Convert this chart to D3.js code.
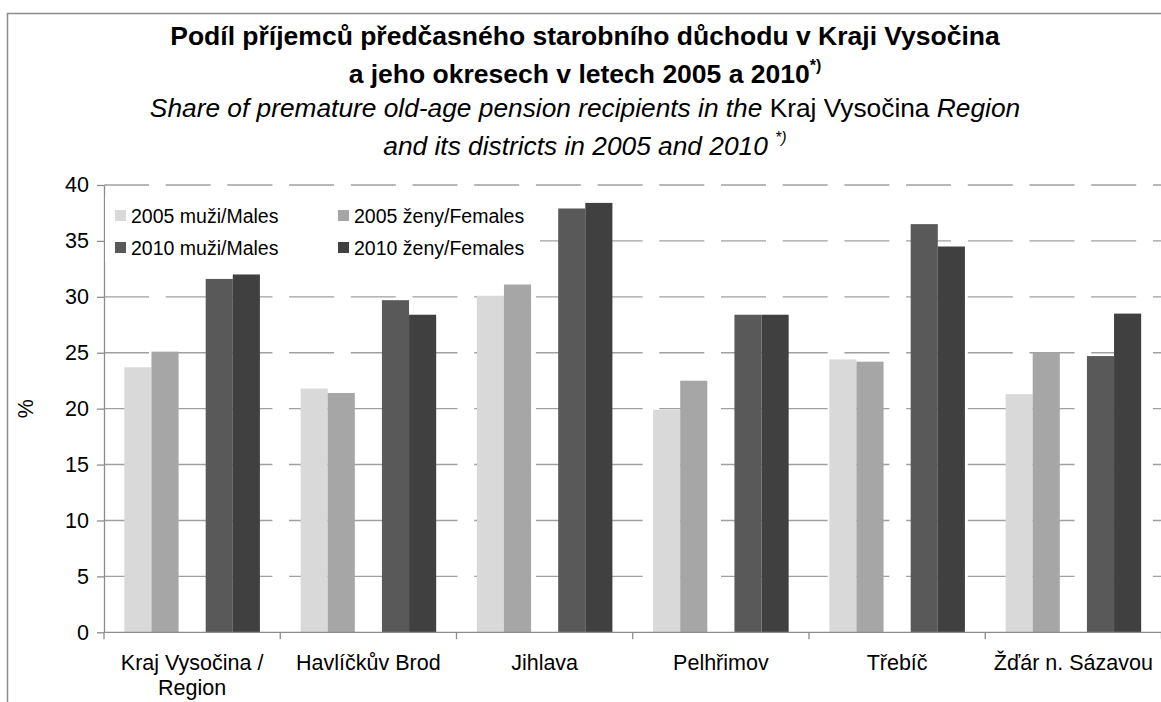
<!DOCTYPE html>
<html><head><meta charset="utf-8">
<script src="https://cdn.jsdelivr.net/npm/d3@7"></script>
<style>
html,body{margin:0;padding:0;background:#fff;}
svg{display:block;font-family:"Liberation Sans",Arial,sans-serif;}
</style></head>
<body>
<svg id="c" width="1161" height="702"></svg>
<script>
const categories = ["Kraj Vysočina /\nRegion","Havlíčkův Brod","Jihlava","Pelhřimov","Třebíč","Žďár n. Sázavou"];
const males2005   = [23.7, 21.8, 30.1, 19.9, 24.4, 21.3];
const females2005 = [25.1, 21.4, 31.1, 22.5, 24.2, 25.0];
const males2010   = [31.6, 29.7, 37.9, 28.4, 36.5, 24.7];
const females2010 = [32.0, 28.4, 38.4, 28.4, 34.5, 28.5];
const seriesKeys   = ["m05","f05","m10","f10"];
const seriesLabels = ["2005 muži/Males","2005 ženy/Females","2010 muži/Males","2010 ženy/Females"];
const seriesColors = ["#d9d9d9","#a6a6a6","#595959","#404040"];
const yTicks = [0,5,10,15,20,25,30,35,40];

(function(){
const seriesValues = [males2005, females2005, males2010, females2010];
const svg = d3.select("#c");

// outer chart border
svg.append("rect").attr("x",7.5).attr("y",13.5).attr("width",1180).attr("height",720)
  .attr("fill","none").attr("stroke","#8c8c8c").attr("stroke-width",1.5);

const pL = 104, pR = 1161.5, pT = 185, pB = 632.3;
const x0 = d3.scaleBand().domain(categories).range([pL,pR]).paddingInner(0).paddingOuter(0);
const x1 = d3.scaleBand().domain(["m05","f05","_gap","m10","f10"]).range([0,x0.bandwidth()])
  .paddingInner(0).paddingOuter(0.75);
const y = d3.scaleLinear().domain([0,40]).range([pB,pT]);

// gridlines
svg.append("g").selectAll("line").data(yTicks.filter(d=>d>0)).join("line")
  .attr("x1",pL).attr("x2",pR).attr("y1",d=>y(d)).attr("y2",d=>y(d))
  .attr("stroke","#a0a0a0").attr("stroke-width",1.4).attr("stroke-dasharray","45,16.7");

// bars
const groups = svg.append("g").selectAll("g").data(categories).join("g")
  .attr("transform",d=>`translate(${x0(d)},0)`);
groups.selectAll("rect").data((d,i)=>seriesKeys.map((k,j)=>({k,v:seriesValues[j][i],c:seriesColors[j]})))
  .join("rect")
  .attr("x",d=>x1(d.k)).attr("width",x1.bandwidth())
  .attr("y",d=>y(d.v)).attr("height",d=>y(0)-y(d.v)).attr("fill",d=>d.c);

// y axis
const ya = svg.append("g").attr("transform",`translate(${pL},0)`)
  .call(d3.axisLeft(y).tickValues(yTicks).tickSize(7).tickPadding(8).tickSizeOuter(0));
ya.select(".domain").attr("stroke","#8c8c8c").attr("stroke-width",1.3);
ya.selectAll(".tick line").attr("stroke","#8c8c8c").attr("stroke-width",1.3);
ya.selectAll(".tick text").attr("font-size",21.5).attr("fill","#000")
  .attr("font-family","'Liberation Sans',Arial,sans-serif");

// x axis line
svg.append("line").attr("x1",pL).attr("x2",pR).attr("y1",pB).attr("y2",pB)
  .attr("stroke","#8c8c8c").attr("stroke-width",1.3);
// boundary ticks
const bounds = categories.map(c=>x0(c)).concat([x0(categories[categories.length-1])+x0.bandwidth()]);
svg.append("g").selectAll("line").data(bounds).join("line")
  .attr("x1",d=>d).attr("x2",d=>d).attr("y1",pB).attr("y2",pB+7)
  .attr("stroke","#8c8c8c").attr("stroke-width",1.3);
// category labels
const cl = svg.append("g").selectAll("text").data(categories).join("text")
  .attr("x",d=>x0(d)+x0.bandwidth()/2).attr("y",670)
  .attr("text-anchor","middle").attr("font-size",21.5).attr("fill","#000");
cl.selectAll("tspan").data(d=>d.split("\n")).join("tspan")
  .attr("x",function(){return this.parentNode.getAttribute("x");})
  .attr("dy",(d,i)=>i===0?0:25).text(d=>d);

// y axis title
svg.append("text").attr("transform",`translate(33,${(pT+pB)/2}) rotate(-90)`)
  .attr("text-anchor","middle").attr("font-size",21.5).text("%");

// legend
svg.append("rect").attr("x",pL+1).attr("y",196).attr("width",435).attr("height",66).attr("fill","#fff");
const legPos = [[115,210],[338,210],[115,242],[338,242]];
const lg = svg.append("g").selectAll("g").data(seriesLabels).join("g")
  .attr("transform",(d,i)=>`translate(${legPos[i][0]},${legPos[i][1]})`);
lg.append("rect").attr("width",11).attr("height",11).attr("fill",(d,i)=>seriesColors[i]);
lg.append("text").attr("x",16).attr("y",13).attr("font-size",19.5).text(d=>d);

// titles
const cx = 585;
svg.append("text").attr("x",cx).attr("y",45).attr("text-anchor","middle")
  .attr("font-size",26.5).attr("font-weight","bold")
  .text("Podíl příjemců předčasného starobního důchodu v Kraji Vysočina");
const t2 = svg.append("text").attr("x",cx).attr("y",83).attr("text-anchor","middle")
  .attr("font-size",26.5).attr("font-weight","bold");
t2.append("tspan").text("a jeho okresech v letech 2005 a 2010");
t2.append("tspan").attr("font-size",16).attr("dy",-12).text("*)");
const t3 = svg.append("text").attr("x",cx).attr("y",117).attr("text-anchor","middle").attr("font-size",26.3);
t3.append("tspan").attr("font-style","italic").text("Share of premature old-age pension recipients in the ");
t3.append("tspan").text("Kraj Vysočina");
t3.append("tspan").attr("font-style","italic").text(" Region");
const t4 = svg.append("text").attr("x",cx).attr("y",155).attr("text-anchor","middle").attr("font-size",26.3)
  .attr("font-style","italic");
t4.append("tspan").text("and its districts in 2005 and 2010 ");
t4.append("tspan").attr("font-size",16).attr("dy",-12).text("*)");
})();
</script>
</body></html>
